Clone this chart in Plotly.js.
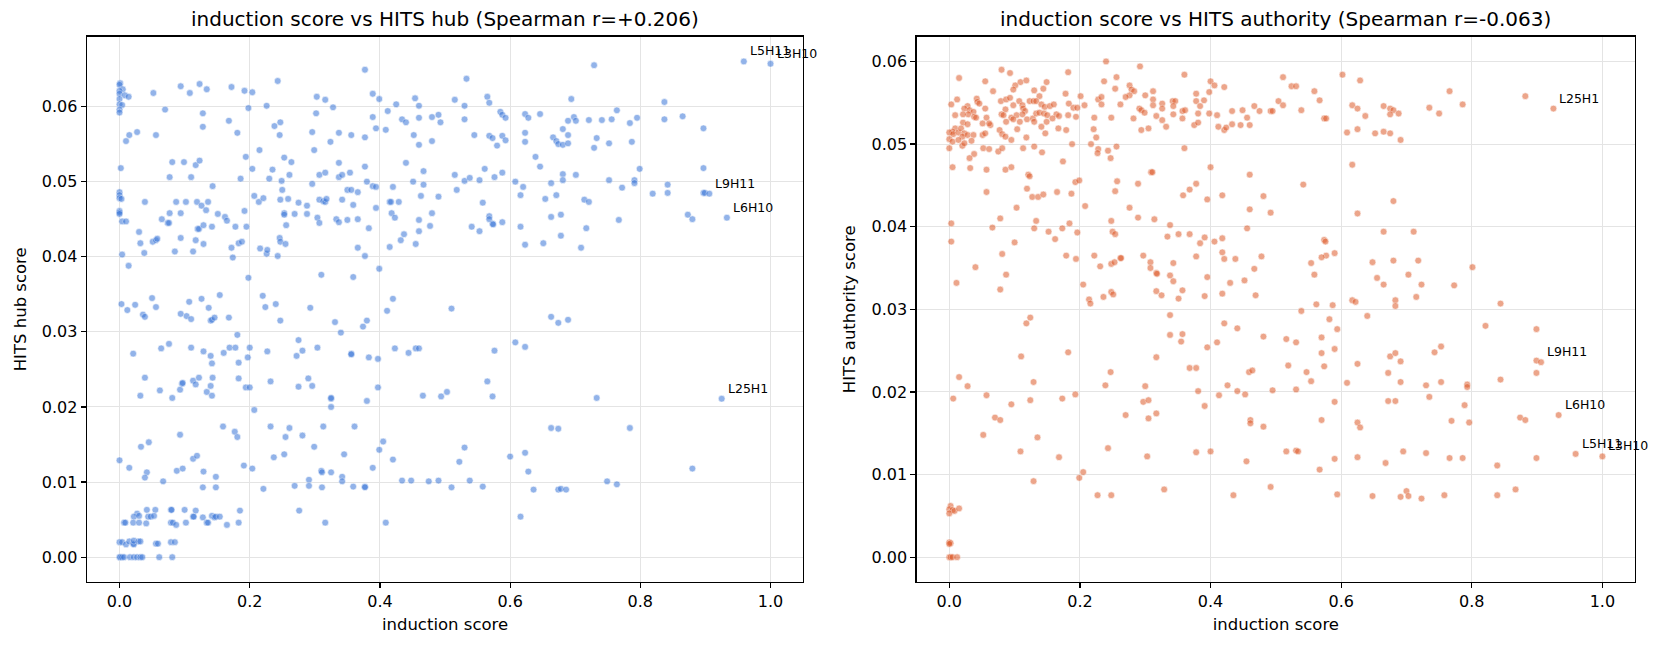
<!DOCTYPE html>
<html>
<head>
<meta charset="utf-8">
<script src="https://cdn.plot.ly/plotly-3.0.1.min.js"></script>
<style>
  html, body { margin: 0; padding: 0; background: #fff; }
  #chart { width: 1663px; height: 648px; }
</style>
</head>
<body>
<div id="chart"></div>
<script>
// Head-level scores: induction score against HITS hub / authority scores.

const inductionTicks = [0, 0.2, 0.4, 0.6, 0.8, 1.0];
const scoreTicks = [0, 0.01, 0.02, 0.03, 0.04, 0.05, 0.06];

const panelTitles = [
  'induction score vs HITS hub (Spearman r=+0.206)',
  'induction score vs HITS authority (Spearman r=-0.063)'
];
const xTitle = 'induction score';
const yTitles = ['HITS hub score', 'HITS authority score'];

// Heads that get a text label
const labelledHeads = ['L5H11', 'L3H10', 'L9H11', 'L6H10', 'L25H1'];
const labelledInduction = [0.959, 1.0, 0.906, 0.933, 0.925];
const labelledHub = [0.0660, 0.0657, 0.0484, 0.0452, 0.0211];
const labelledAuthority = [0.0125, 0.0122, 0.0236, 0.0172, 0.0543];

// [induction score, hub score] for the remaining heads
const hubPoints = [
[0.001,0.0631],[0.000,0.0629],[0.005,0.0623],[0.000,0.0621],[0.000,0.0617],[0.008,0.0615],[0.000,0.0610],[0.000,0.0603],[0.004,0.0602],[0.000,0.0596],
[0.000,0.0592],[0.014,0.0613],[0.002,0.0518],[0.000,0.0486],[0.000,0.0482],[0.000,0.0478],[0.003,0.0477],[0.000,0.0461],[0.000,0.0459],[0.000,0.0457],
[0.004,0.0447],[0.010,0.0447],[0.004,0.0403],[0.014,0.0388],
[0.052,0.0618],[0.094,0.0627],[0.108,0.0618],[0.123,0.0630],[0.134,0.0623],[0.172,0.0626],[0.192,0.0621],[0.204,0.0619],[0.243,0.0634],[0.377,0.0649],
[0.389,0.0617],[0.399,0.0610],[0.454,0.0611],[0.425,0.0603],[0.460,0.0601],[0.412,0.0594],[0.070,0.0596],[0.128,0.0591],[0.198,0.0598],[0.226,0.0601],
[0.303,0.0613],[0.316,0.0609],[0.328,0.0599],[0.302,0.0591],[0.480,0.0586],[0.490,0.0589],[0.493,0.0579],[0.389,0.0586],[0.434,0.0583],[0.440,0.0579],
[0.460,0.0585],[0.394,0.0571],[0.409,0.0569],[0.452,0.0562],[0.460,0.0549],[0.480,0.0554],[0.015,0.0562],[0.027,0.0566],[0.010,0.0554],[0.056,0.0562],
[0.128,0.0573],[0.168,0.0581],[0.181,0.0565],[0.238,0.0574],[0.247,0.0579],[0.246,0.0562],[0.296,0.0566],[0.324,0.0553],[0.337,0.0565],[0.356,0.0562],
[0.377,0.0559],[0.299,0.0542],[0.215,0.0542],[0.194,0.0533],[0.081,0.0526],[0.099,0.0526],[0.117,0.0522],[0.123,0.0528],[0.077,0.0506],[0.110,0.0506],
[0.143,0.0494],[0.186,0.0504],[0.204,0.0517],[0.235,0.0516],[0.230,0.0504],[0.253,0.0532],[0.264,0.0526],[0.261,0.0509],[0.249,0.0501],[0.250,0.0489],
[0.307,0.0509],[0.316,0.0512],[0.337,0.0525],[0.337,0.0506],[0.342,0.0509],[0.354,0.0512],[0.377,0.0520],[0.440,0.0525],[0.467,0.0514],[0.451,0.0500],
[0.467,0.0496],[0.380,0.0500],[0.389,0.0494],[0.394,0.0493],[0.420,0.0493],[0.296,0.0497],[0.350,0.0489],[0.356,0.0489],[0.366,0.0486],[0.463,0.0481],
[0.490,0.0480],[0.039,0.0473],[0.087,0.0473],[0.102,0.0473],[0.119,0.0473],[0.126,0.0468],[0.133,0.0462],[0.136,0.0473],[0.207,0.0481],[0.214,0.0473],
[0.221,0.0478],[0.247,0.0476],[0.259,0.0477],[0.275,0.0472],[0.288,0.0468],[0.307,0.0476],[0.313,0.0474],[0.316,0.0473],[0.318,0.0477],[0.342,0.0476],
[0.359,0.0469],[0.394,0.0465],[0.415,0.0473],[0.417,0.0473],[0.429,0.0473],[0.077,0.0458],[0.094,0.0458],[0.065,0.0450],[0.074,0.0445],[0.076,0.0445],
[0.151,0.0457],[0.162,0.0453],[0.165,0.0448],[0.192,0.0461],[0.253,0.0458],[0.253,0.0456],[0.269,0.0457],[0.288,0.0457],[0.304,0.0452],[0.307,0.0445],
[0.333,0.0450],[0.337,0.0446],[0.350,0.0449],[0.366,0.0450],[0.418,0.0458],[0.423,0.0452],[0.460,0.0449],[0.480,0.0458],[0.477,0.0441],[0.460,0.0434],
[0.437,0.0430],[0.432,0.0422],[0.455,0.0417],[0.415,0.0413],[0.383,0.0438],[0.030,0.0433],[0.032,0.0418],[0.051,0.0420],[0.056,0.0422],[0.058,0.0424],
[0.038,0.0405],[0.094,0.0425],[0.117,0.0422],[0.129,0.0417],[0.120,0.0437],[0.122,0.0437],[0.129,0.0442],[0.142,0.0440],[0.178,0.0440],[0.195,0.0440],
[0.172,0.0412],[0.174,0.0399],[0.183,0.0418],[0.188,0.0420],[0.246,0.0425],[0.247,0.0420],[0.255,0.0417],[0.256,0.0442],[0.216,0.0411],[0.226,0.0404],
[0.227,0.0409],[0.243,0.0401],[0.085,0.0407],[0.113,0.0407],[0.366,0.0412],[0.377,0.0401],[0.399,0.0384],[0.310,0.0376],[0.359,0.0373],[0.198,0.0372],
[0.050,0.0345],[0.126,0.0344],[0.154,0.0349],[0.220,0.0348],[0.420,0.0344],
[0.533,0.0637],[0.515,0.0609],[0.530,0.0601],[0.530,0.0583],[0.565,0.0613],[0.568,0.0605],[0.585,0.0593],[0.588,0.0589],[0.593,0.0585],[0.623,0.0590],
[0.628,0.0585],[0.646,0.0590],[0.694,0.0610],[0.729,0.0655],[0.689,0.0581],[0.698,0.0586],[0.701,0.0581],[0.721,0.0582],[0.741,0.0582],[0.756,0.0583],
[0.764,0.0595],[0.784,0.0578],[0.795,0.0585],[0.837,0.0606],[0.837,0.0583],[0.865,0.0587],[0.897,0.0571],[0.545,0.0562],[0.568,0.0561],[0.573,0.0558],
[0.588,0.0561],[0.593,0.0555],[0.580,0.0548],[0.623,0.0565],[0.623,0.0553],[0.666,0.0559],[0.671,0.0554],[0.674,0.0550],[0.681,0.0570],[0.681,0.0549],
[0.689,0.0562],[0.689,0.0551],[0.733,0.0558],[0.729,0.0545],[0.752,0.0551],[0.787,0.0553],[0.639,0.0533],[0.646,0.0520],[0.515,0.0509],[0.530,0.0501],
[0.538,0.0505],[0.553,0.0502],[0.561,0.0517],[0.576,0.0506],[0.588,0.0512],[0.608,0.0500],[0.518,0.0489],[0.620,0.0493],[0.616,0.0482],[0.654,0.0477],
[0.663,0.0498],[0.671,0.0482],[0.681,0.0510],[0.681,0.0502],[0.701,0.0509],[0.714,0.0476],[0.721,0.0473],[0.752,0.0502],[0.772,0.0492],[0.791,0.0502],
[0.791,0.0498],[0.799,0.0517],[0.819,0.0484],[0.842,0.0496],[0.842,0.0485],[0.897,0.0518],[0.897,0.0485],[0.899,0.0485],[0.873,0.0456],[0.880,0.0450],
[0.558,0.0472],[0.568,0.0454],[0.568,0.0450],[0.573,0.0444],[0.574,0.0443],[0.588,0.0446],[0.541,0.0440],[0.553,0.0434],[0.616,0.0440],[0.623,0.0416],
[0.651,0.0418],[0.663,0.0453],[0.678,0.0456],[0.678,0.0428],[0.709,0.0412],[0.717,0.0438],[0.767,0.0449],
[0.003,0.0337],[0.012,0.0329],[0.024,0.0336],[0.036,0.0323],[0.039,0.0320],[0.056,0.0333],[0.094,0.0324],[0.103,0.0321],[0.110,0.0317],[0.107,0.0340],
[0.137,0.0332],[0.140,0.0315],[0.142,0.0316],[0.146,0.0319],[0.168,0.0319],[0.224,0.0333],[0.240,0.0337],[0.247,0.0315],[0.293,0.0332],[0.331,0.0313],
[0.340,0.0299],[0.374,0.0307],[0.380,0.0315],[0.411,0.0328],[0.181,0.0296],[0.021,0.0271],[0.064,0.0278],[0.076,0.0284],[0.110,0.0279],[0.129,0.0274],
[0.140,0.0268],[0.142,0.0258],[0.160,0.0272],[0.169,0.0279],[0.178,0.0279],[0.183,0.0259],[0.197,0.0266],[0.200,0.0279],[0.227,0.0274],[0.275,0.0289],
[0.281,0.0275],[0.272,0.0268],[0.304,0.0279],[0.356,0.0271],[0.356,0.0270],[0.383,0.0266],[0.397,0.0264],[0.423,0.0278],[0.444,0.0272],[0.455,0.0278],
[0.460,0.0278],[0.039,0.0239],[0.062,0.0222],[0.032,0.0215],[0.081,0.0212],[0.093,0.0223],[0.096,0.0231],[0.097,0.0232],[0.113,0.0235],[0.117,0.0230],
[0.122,0.0239],[0.134,0.0220],[0.140,0.0228],[0.142,0.0215],[0.143,0.0239],[0.183,0.0238],[0.194,0.0226],[0.200,0.0226],[0.207,0.0196],[0.232,0.0234],
[0.275,0.0227],[0.290,0.0238],[0.296,0.0228],[0.325,0.0211],[0.325,0.0212],[0.325,0.0200],[0.380,0.0208],[0.397,0.0226],[0.466,0.0215],[0.000,0.0129],
[0.015,0.0119],[0.033,0.0147],[0.045,0.0153],[0.042,0.0113],[0.039,0.0106],[0.067,0.0101],[0.093,0.0163],[0.088,0.0115],[0.097,0.0118],[0.113,0.0131],
[0.119,0.0135],[0.129,0.0114],[0.128,0.0093],[0.148,0.0107],[0.148,0.0093],[0.159,0.0174],[0.177,0.0167],[0.181,0.0160],[0.191,0.0122],[0.204,0.0118],
[0.221,0.0091],[0.232,0.0174],[0.237,0.0133],[0.253,0.0137],[0.255,0.0160],[0.261,0.0172],[0.281,0.0162],[0.299,0.0147],[0.269,0.0095],[0.276,0.0062],
[0.291,0.0103],[0.291,0.0095],[0.310,0.0115],[0.311,0.0113],[0.311,0.0093],[0.313,0.0174],[0.325,0.0113],[0.342,0.0107],[0.342,0.0101],[0.345,0.0137],
[0.359,0.0094],[0.361,0.0174],[0.377,0.0094],[0.377,0.0093],[0.389,0.0119],[0.399,0.0143],[0.405,0.0154],[0.420,0.0130],[0.434,0.0102],[0.448,0.0102],
[0.475,0.0101],[0.490,0.0102],[0.316,0.0046],[0.409,0.0046],
[0.042,0.0063],[0.055,0.0063],[0.079,0.0063],[0.080,0.0063],[0.100,0.0063],[0.117,0.0062],[0.185,0.0062],[0.027,0.0058],[0.022,0.0054],[0.030,0.0055],
[0.044,0.0054],[0.048,0.0054],[0.053,0.0055],[0.113,0.0054],[0.114,0.0054],[0.128,0.0053],[0.142,0.0055],[0.146,0.0053],[0.148,0.0054],[0.154,0.0054],
[0.007,0.0046],[0.009,0.0046],[0.021,0.0046],[0.030,0.0046],[0.041,0.0045],[0.079,0.0046],[0.082,0.0046],[0.087,0.0043],[0.102,0.0046],[0.134,0.0046],
[0.136,0.0046],[0.165,0.0043],[0.183,0.0046],[0.000,0.0020],[0.004,0.0020],[0.010,0.0017],[0.015,0.0021],[0.021,0.0018],[0.022,0.0017],[0.022,0.0022],
[0.029,0.0021],[0.032,0.0021],[0.056,0.0018],[0.059,0.0018],[0.079,0.0020],[0.085,0.0020],[0.000,0],[0.001,0],[0.004,0],[0.007,0],
[0.016,0],[0.022,0],[0.027,0],[0.032,0],[0.035,0],[0.061,0],[0.081,0],
[0.510,0.0331],[0.663,0.0320],[0.674,0.0312],[0.689,0.0316],[0.608,0.0286],[0.623,0.0280],[0.576,0.0275],[0.565,0.0234],[0.503,0.0220],[0.494,0.0214],
[0.573,0.0214],[0.733,0.0212],[0.663,0.0172],[0.674,0.0171],[0.784,0.0172],[0.530,0.0146],[0.522,0.0127],[0.600,0.0134],[0.623,0.0139],[0.628,0.0114],
[0.880,0.0118],[0.510,0.0093],[0.538,0.0102],[0.558,0.0094],[0.636,0.0090],[0.674,0.0090],[0.678,0.0091],[0.686,0.0090],[0.749,0.0101],[0.764,0.0097],
[0.616,0.0054]
];

// [induction score, authority score] for the remaining heads
const authorityPoints = [
[0.080,0.0590],[0.093,0.0586],[0.182,0.0587],[0.015,0.0580],[0.055,0.0576],[0.109,0.0575],[0.118,0.0577],[0.101,0.0571],[0.149,0.0575],[0.067,0.0564],
[0.098,0.0566],[0.130,0.0565],[0.144,0.0567],[0.178,0.0561],[0.012,0.0554],[0.003,0.0548],[0.042,0.0555],[0.043,0.0551],[0.046,0.0549],[0.079,0.0552],
[0.087,0.0554],[0.093,0.0556],[0.107,0.0552],[0.138,0.0558],[0.123,0.0552],[0.129,0.0552],[0.133,0.0552],[0.201,0.0558],[0.028,0.0546],[0.023,0.0543],
[0.031,0.0541],[0.037,0.0539],[0.029,0.0536],[0.055,0.0543],[0.086,0.0542],[0.098,0.0547],[0.112,0.0547],[0.113,0.0543],[0.116,0.0540],[0.141,0.0548],
[0.146,0.0545],[0.154,0.0546],[0.160,0.0548],[0.183,0.0549],[0.190,0.0544],[0.196,0.0544],[0.207,0.0547],[0.009,0.0535],[0.021,0.0536],[0.038,0.0533],
[0.041,0.0532],[0.057,0.0532],[0.080,0.0536],[0.083,0.0535],[0.095,0.0532],[0.103,0.0535],[0.112,0.0536],[0.119,0.0530],[0.128,0.0531],[0.133,0.0537],
[0.138,0.0538],[0.145,0.0537],[0.150,0.0535],[0.164,0.0536],[0.168,0.0534],[0.182,0.0535],[0.194,0.0533],[0.021,0.0526],[0.028,0.0524],[0.051,0.0525],
[0.063,0.0523],[0.061,0.0525],[0.087,0.0527],[0.098,0.0530],[0.108,0.0527],[0.130,0.0527],[0.141,0.0521],[0.149,0.0527],[0.158,0.0531],[0.009,0.0519],
[0.005,0.0515],[0.000,0.0514],[0.006,0.0512],[0.014,0.0514],[0.018,0.0519],[0.023,0.0513],[0.020,0.0509],[0.028,0.0511],[0.037,0.0511],[0.051,0.0511],
[0.055,0.0513],[0.077,0.0517],[0.081,0.0512],[0.086,0.0509],[0.104,0.0518],[0.147,0.0513],[0.167,0.0519],[0.179,0.0517],[0.000,0.0506],[0.005,0.0503],
[0.014,0.0505],[0.020,0.0498],[0.023,0.0501],[0.034,0.0504],[0.095,0.0505],[0.118,0.0508],[0.052,0.0495],[0.061,0.0494],[0.075,0.0491],[0.081,0.0495],
[0.113,0.0495],[0.130,0.0497],[0.142,0.0490],[0.188,0.0500],[0.000,0.0495],[0.038,0.0488],[0.031,0.0483],[0.174,0.0479],
[0.240,0.0600],[0.292,0.0594],[0.360,0.0584],[0.237,0.0576],[0.256,0.0581],[0.254,0.0567],[0.276,0.0571],[0.279,0.0566],[0.283,0.0564],[0.276,0.0559],
[0.270,0.0557],[0.228,0.0554],[0.233,0.0557],[0.233,0.0548],[0.262,0.0548],[0.300,0.0559],[0.312,0.0564],[0.312,0.0554],[0.312,0.0547],[0.326,0.0549],
[0.326,0.0543],[0.342,0.0552],[0.346,0.0552],[0.343,0.0546],[0.291,0.0543],[0.294,0.0541],[0.299,0.0538],[0.282,0.0531],[0.317,0.0534],[0.326,0.0529],
[0.332,0.0521],[0.305,0.0519],[0.294,0.0517],[0.343,0.0536],[0.357,0.0540],[0.361,0.0541],[0.357,0.0531],[0.378,0.0561],[0.378,0.0552],[0.390,0.0553],
[0.384,0.0546],[0.381,0.0537],[0.398,0.0563],[0.400,0.0576],[0.406,0.0571],[0.421,0.0569],[0.398,0.0537],[0.410,0.0535],[0.433,0.0540],[0.375,0.0523],
[0.381,0.0526],[0.412,0.0521],[0.421,0.0517],[0.424,0.0520],[0.433,0.0524],[0.222,0.0532],[0.248,0.0532],[0.221,0.0518],[0.225,0.0508],[0.217,0.0500],
[0.228,0.0494],[0.227,0.0489],[0.243,0.0492],[0.256,0.0497],[0.247,0.0483],[0.360,0.0495],
[0.467,0.0546],[0.449,0.0541],[0.456,0.0532],[0.446,0.0523],[0.460,0.0523],[0.475,0.0540],
[0.005,0.0472],[0.032,0.0471],[0.057,0.0469],[0.086,0.0469],[0.095,0.0472],[0.057,0.0442],[0.121,0.0463],[0.123,0.0461],[0.119,0.0446],[0.127,0.0436],
[0.136,0.0436],[0.144,0.0439],[0.103,0.0423],[0.165,0.0442],[0.187,0.0440],[0.193,0.0454],[0.199,0.0456],[0.208,0.0425],[0.078,0.0410],[0.133,0.0407],
[0.130,0.0398],[0.066,0.0399],[0.003,0.0404],[0.003,0.0382],[0.152,0.0394],[0.162,0.0385],[0.173,0.0398],[0.184,0.0404],[0.196,0.0393],[0.100,0.0381],
[0.081,0.0367],[0.040,0.0351],[0.087,0.0342],[0.011,0.0332],[0.078,0.0324],[0.179,0.0365],[0.194,0.0361],[0.205,0.0330],[0.214,0.0312],[0.222,0.0365],
[0.231,0.0352],[0.236,0.0315],[0.248,0.0407],[0.254,0.0443],[0.257,0.0455],[0.250,0.0394],[0.254,0.0391],[0.248,0.0355],[0.253,0.0357],[0.262,0.0362],
[0.263,0.0362],[0.248,0.0321],[0.251,0.0318],[0.276,0.0423],[0.289,0.0411],[0.297,0.0365],[0.308,0.0357],[0.308,0.0350],[0.317,0.0344],[0.318,0.0343],
[0.317,0.0322],[0.325,0.0317],[0.289,0.0452],[0.309,0.0466],[0.311,0.0466],[0.314,0.0409],[0.338,0.0402],[0.334,0.0388],[0.351,0.0391],[0.368,0.0391],
[0.358,0.0438],[0.368,0.0445],[0.378,0.0452],[0.338,0.0341],[0.343,0.0356],[0.343,0.0334],[0.357,0.0323],[0.351,0.0313],[0.378,0.0364],[0.384,0.0380],
[0.391,0.0387],[0.395,0.0339],[0.391,0.0316],[0.395,0.0433],[0.400,0.0472],[0.406,0.0382],[0.418,0.0386],[0.418,0.0369],[0.421,0.0361],[0.438,0.0361],
[0.430,0.0332],[0.418,0.0319],[0.418,0.0438],[0.452,0.0335],[0.469,0.0317],[0.467,0.0349],[0.456,0.0398],[0.460,0.0421],[0.460,0.0463],
[0.511,0.0581],[0.524,0.0570],[0.531,0.0570],[0.559,0.0564],[0.567,0.0553],[0.504,0.0552],[0.511,0.0547],[0.492,0.0540],[0.495,0.0540],[0.539,0.0541],
[0.574,0.0531],[0.577,0.0531],[0.602,0.0584],[0.629,0.0577],[0.617,0.0547],[0.625,0.0543],[0.637,0.0534],[0.609,0.0514],[0.625,0.0518],[0.652,0.0513],
[0.665,0.0515],[0.675,0.0513],[0.691,0.0505],[0.665,0.0546],[0.675,0.0543],[0.680,0.0541],[0.675,0.0536],[0.688,0.0537],[0.735,0.0544],[0.750,0.0537],
[0.766,0.0564],[0.786,0.0548],[0.882,0.0558],[0.617,0.0475],[0.542,0.0451],[0.481,0.0437],[0.492,0.0417],[0.680,0.0431],[0.625,0.0416],[0.665,0.0394],
[0.711,0.0394],[0.574,0.0384],[0.576,0.0382],[0.590,0.0368],[0.577,0.0365],[0.570,0.0363],[0.554,0.0356],[0.559,0.0342],[0.478,0.0364],[0.648,0.0357],
[0.680,0.0359],[0.718,0.0359],[0.655,0.0338],[0.665,0.0330],[0.703,0.0342],[0.723,0.0330],[0.773,0.0329],[0.801,0.0351],[0.715,0.0315],
[0.216,0.0307],[0.338,0.0293],[0.118,0.0283],[0.124,0.0290],[0.110,0.0243],[0.182,0.0248],[0.338,0.0269],[0.357,0.0270],[0.355,0.0261],[0.421,0.0283],
[0.441,0.0277],[0.410,0.0260],[0.395,0.0254],[0.317,0.0242],[0.368,0.0229],[0.378,0.0229],[0.381,0.0201],[0.391,0.0183],[0.426,0.0208],[0.413,0.0196],
[0.441,0.0201],[0.453,0.0197],[0.459,0.0224],[0.464,0.0226],[0.461,0.0166],[0.461,0.0162],[0.378,0.0127],[0.400,0.0128],[0.455,0.0116],[0.435,0.0075],
[0.015,0.0218],[0.028,0.0207],[0.006,0.0192],[0.057,0.0196],[0.070,0.0169],[0.078,0.0166],[0.095,0.0185],[0.124,0.0190],[0.129,0.0212],[0.052,0.0148],
[0.109,0.0128],[0.135,0.0145],[0.129,0.0092],[0.168,0.0121],[0.173,0.0192],[0.193,0.0197],[0.199,0.0096],[0.205,0.0103],[0.227,0.0075],[0.248,0.0075],
[0.239,0.0208],[0.247,0.0224],[0.243,0.0132],[0.270,0.0172],[0.297,0.0188],[0.300,0.0207],[0.305,0.0190],[0.305,0.0168],[0.317,0.0174],[0.303,0.0122],
[0.329,0.0082],
[0.002,0.0062],[0.000,0.0058],[0.005,0.0057],[0.000,0.0053],[0.008,0.0056],[0.015,0.0059],[0.000,0.0018],[0.002,0.0017],[0.000,0.0016],[0.000,0],
[0.002,0],[0.005,0],[0.012,0],
[0.562,0.0306],[0.587,0.0305],[0.539,0.0298],[0.617,0.0311],[0.622,0.0309],[0.683,0.0311],[0.683,0.0304],[0.640,0.0292],[0.844,0.0307],[0.582,0.0288],
[0.594,0.0276],[0.481,0.0267],[0.516,0.0264],[0.531,0.0260],[0.570,0.0266],[0.570,0.0247],[0.590,0.0252],[0.519,0.0232],[0.547,0.0224],[0.554,0.0213],
[0.574,0.0231],[0.495,0.0202],[0.531,0.0203],[0.590,0.0188],[0.609,0.0211],[0.625,0.0234],[0.672,0.0223],[0.675,0.0243],[0.683,0.0247],[0.691,0.0237],
[0.691,0.0212],[0.672,0.0189],[0.683,0.0189],[0.730,0.0208],[0.735,0.0194],[0.743,0.0248],[0.753,0.0255],[0.753,0.0212],[0.793,0.0209],[0.793,0.0206],
[0.789,0.0184],[0.821,0.0280],[0.844,0.0215],[0.899,0.0276],[0.899,0.0238],[0.899,0.0223],[0.481,0.0158],[0.570,0.0166],[0.625,0.0163],[0.629,0.0157],
[0.769,0.0165],[0.796,0.0163],[0.874,0.0169],[0.882,0.0166],[0.516,0.0128],[0.531,0.0129],[0.534,0.0128],[0.567,0.0106],[0.590,0.0119],[0.625,0.0121],
[0.668,0.0114],[0.695,0.0128],[0.730,0.0126],[0.766,0.0120],[0.786,0.0120],[0.839,0.0111],[0.899,0.0120],[0.492,0.0085],[0.594,0.0076],[0.648,0.0074],
[0.691,0.0073],[0.700,0.0080],[0.703,0.0074],[0.723,0.0071],[0.758,0.0075],[0.839,0.0075],[0.867,0.0082]
];

const FONT = 'DejaVu Sans, Liberation Sans, sans-serif';
const hubColor = 'rgb(58,118,216)';
const authorityColor = 'rgb(222,92,44)';

function scatterTrace(points, labelledY, color, xa, ya) {
  return {
    type: 'scatter',
    mode: 'markers',
    x: points.map(p => p[0]).concat(labelledInduction),
    y: points.map(p => p[1]).concat(labelledY),
    xaxis: xa,
    yaxis: ya,
    hoverinfo: 'skip',
    marker: {
      size: 6.8,
      color: color,
      opacity: 0.55,
      line: { color: '#ffffff', width: 0.6 }
    }
  };
}

const data = [
  scatterTrace(hubPoints, labelledHub, hubColor, 'x', 'y'),
  scatterTrace(authorityPoints, labelledAuthority, authorityColor, 'x2', 'y2')
];

const yDomain = [0.1019, 0.9434];
const leftDomain = [0.0523, 0.4829];
const rightDomain = [0.5512, 0.9832];

function xAxis(domain, anchor) {
  return {
    domain: domain,
    anchor: anchor,
    range: [-0.05, 1.05],
    tickvals: inductionTicks,
    ticktext: inductionTicks.map(v => v.toFixed(1)),
    ticks: 'outside',
    ticklen: 5,
    tickwidth: 1.2,
    tickcolor: '#000',
    tickfont: { family: FONT, size: 16, color: '#000' },
    showline: true,
    mirror: true,
    linecolor: '#000',
    linewidth: 1.3,
    showgrid: true,
    gridcolor: '#e4e4e4',
    gridwidth: 1,
    zeroline: false,
    title: { text: xTitle, font: { family: FONT, size: 16.5, color: '#000' }, standoff: 8 }
  };
}

function yAxis(range, anchor, title) {
  return {
    domain: yDomain,
    anchor: anchor,
    range: range,
    tickvals: scoreTicks,
    ticktext: scoreTicks.map(v => v.toFixed(2)),
    ticks: 'outside',
    ticklen: 5,
    tickwidth: 1.2,
    tickcolor: '#000',
    tickfont: { family: FONT, size: 16, color: '#000' },
    showline: true,
    mirror: true,
    linecolor: '#000',
    linewidth: 1.3,
    showgrid: true,
    gridcolor: '#e4e4e4',
    gridwidth: 1,
    zeroline: false,
    title: { text: title, font: { family: FONT, size: 16.5, color: '#000' }, standoff: 11 }
  };
}

const annotations = [];
[leftDomain, rightDomain].forEach((dom, i) => {
  annotations.push({
    xref: 'paper', yref: 'paper',
    x: (dom[0] + dom[1]) / 2, y: yDomain[1],
    xanchor: 'center', yanchor: 'bottom',
    yshift: 4,
    showarrow: false,
    text: panelTitles[i],
    font: { family: FONT, size: 20, color: '#000' }
  });
});

labelledHeads.forEach((name, i) => {
  annotations.push({
    xref: 'x', yref: 'y',
    x: labelledInduction[i], y: labelledHub[i],
    xanchor: 'left', yanchor: 'bottom',
    xshift: 4, yshift: 1,
    showarrow: false,
    text: name,
    font: { family: FONT, size: 12.5, color: '#000' }
  });
  annotations.push({
    xref: 'x2', yref: 'y2',
    x: labelledInduction[i], y: labelledAuthority[i],
    xanchor: 'left', yanchor: 'bottom',
    xshift: 4, yshift: 1,
    showarrow: false,
    text: name,
    font: { family: FONT, size: 12.5, color: '#000' }
  });
});

const layout = {
  width: 1663,
  height: 648,
  margin: { l: 0, r: 0, t: 0, b: 0 },
  paper_bgcolor: '#ffffff',
  plot_bgcolor: '#ffffff',
  showlegend: false,
  font: { family: FONT, color: '#000' },
  xaxis: xAxis(leftDomain, 'y'),
  yaxis: yAxis([-0.0033, 0.0693], 'x', yTitles[0]),
  xaxis2: xAxis(rightDomain, 'y2'),
  yaxis2: yAxis([-0.003, 0.063], 'x2', yTitles[1]),
  annotations: annotations
};

Plotly.newPlot('chart', data, layout, { staticPlot: true, displayModeBar: false });
</script>
</body>
</html>
